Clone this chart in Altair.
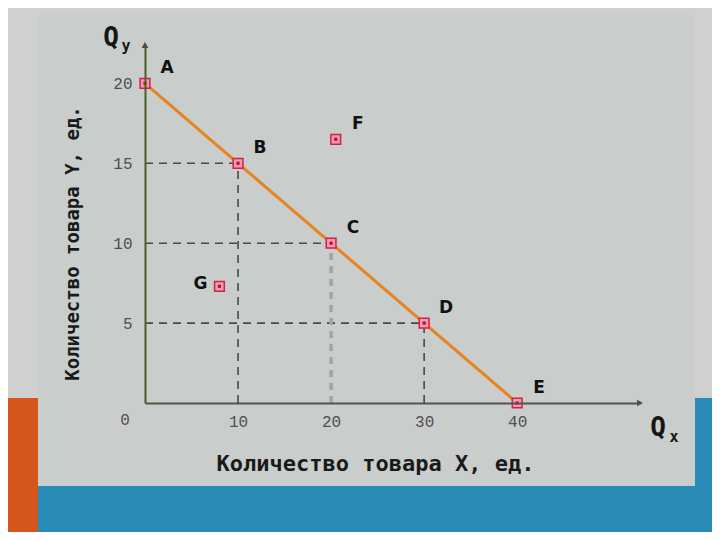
import altair as alt
import pandas as pd

# ---- data ----
line_names = ["A", "B", "C", "D", "E"]
line_x = [0, 10, 20, 30, 40]
line_y = [20, 15, 10, 5, 0]

extra_names = ["F", "G"]
extra_x = [20.5, 8]
extra_y = [16.5, 7.3]

guide_names = ["B", "C", "D"]
guide_x = [10, 20, 30]
guide_y = [15, 10, 5]

x_ticks = [10, 20, 30, 40]
y_ticks = [5, 10, 15, 20]
x_title = "Количество товара X, ед."
y_title = "Количество товара Y, ед."

X_MAX = 53.2
Y_MAX = 22.4

line_df = pd.DataFrame({"name": line_names, "x": line_x, "y": line_y})
extra_df = pd.DataFrame({"name": extra_names, "x": extra_x, "y": extra_y})
all_df = pd.concat([line_df, extra_df], ignore_index=True)
guide_df = pd.DataFrame({"name": guide_names, "x": guide_x, "y": guide_y, "zero": [0, 0, 0]})
one = pd.DataFrame({"k": [0]})

xs = alt.Scale(domain=[0, X_MAX], nice=False, zero=False)
ys = alt.Scale(domain=[0, Y_MAX], nice=False, zero=False)

x_axis = alt.Axis(
    values=x_ticks, title=x_title, grid=False, ticks=False, zindex=1,
    domainColor="#55564a", domainWidth=2,
    labelFont="Liberation Mono", labelFontSize=16, labelColor="#505050",
    labelPadding=10, labelFlush=False,
    titleFont="DejaVu Sans Mono", titleFontWeight="bold", titleFontSize=22,
    titleColor="#1a1a1a", titleX=230, titleY=60, titleAlign="center",
    titleBaseline="middle", titleAnchor="start",
)
y_axis = alt.Axis(
    values=y_ticks, title=y_title, grid=False, ticks=False, zindex=1,
    domainColor="#4d5e26", domainWidth=2,
    labelFont="Liberation Mono", labelFontSize=16, labelColor="#505050",
    labelPadding=13, labelFlush=False,
    titleFont="DejaVu Sans Mono", titleFontWeight="bold", titleFontSize=19,
    titleColor="#1a1a1a", titleAngle=270, titleX=-73, titleY=198,
    titleAlign="center", titleBaseline="middle", titleAnchor="start",
)

def X(field):
    return alt.X(field, scale=xs, axis=x_axis)

def Y(field):
    return alt.Y(field, scale=ys, axis=y_axis)

def rect(x, x2, y, y2, color):
    return alt.Chart(one).mark_rect(color=color, opacity=1).encode(
        x=alt.value(x), x2=alt.value(x2), y=alt.value(y), y2=alt.value(y2)
    )

# decorative slide background (plot-area pixel coordinates)
bg_panel = rect(-107, 550, -30, 441, "#c9cdcb")
bg_blue = rect(-137, 567, 441, 487, "#2a8cb6")
bg_blue_r = rect(550, 567, 353, 441, "#2a8cb6")
bg_orange = rect(-137, -107, 353, 487, "#d4561c")

# dashed guides
h_guides = alt.Chart(guide_df).mark_rule(color="#4a4a42", strokeWidth=1.6, strokeDash=[8, 6]).encode(
    x=X("zero:Q"), x2="x:Q", y=Y("y:Q"),
)
v_guides = alt.Chart(guide_df[guide_df["name"] != "C"]).mark_rule(
    color="#4a4a42", strokeWidth=1.6, strokeDash=[8, 6]).encode(
    x=X("x:Q"), y=Y("zero:Q"), y2="y:Q",
)
v_guide_c = alt.Chart(guide_df[guide_df["name"] == "C"]).mark_rule(
    color="#a3a5a3", strokeWidth=3.5, strokeDash=[7, 6]).encode(
    x=X("x:Q"), y=Y("zero:Q"), y2="y:Q",
)

budget = alt.Chart(line_df).mark_line(color="#e8831e", strokeWidth=3).encode(
    x=X("x:Q"), y=Y("y:Q"), order="x:Q"
)

markers = alt.Chart(all_df).mark_point(
    shape="square", size=95, filled=True, fill="#f29aae", stroke="#d3204a",
    strokeWidth=1.5, opacity=1).encode(x=X("x:Q"), y=Y("y:Q"))
dots = alt.Chart(all_df).mark_point(shape="square", size=10, filled=True, color="#b0103a", opacity=1).encode(
    x=X("x:Q"), y=Y("y:Q"))

lab_df = all_df[all_df["name"] != "G"]
letters = alt.Chart(lab_df).mark_text(
    font="DejaVu Sans", fontWeight="bold", fontSize=17, color="#111111", dx=22, dy=-15).encode(
    x=X("x:Q"), y=Y("y:Q"), text="name:N"
)
letter_g = alt.Chart(all_df[all_df["name"] == "G"]).mark_text(
    font="DejaVu Sans", fontWeight="bold", fontSize=17, color="#111111", dx=-19, dy=-2).encode(
    x=X("x:Q"), y=Y("y:Q"), text="name:N"
)

zero_df = pd.DataFrame({"x": [0], "y": [0], "t": ["0"]})
zero_lab = alt.Chart(zero_df).mark_text(
    font="Liberation Mono", fontSize=16, color="#505050", dx=-20, dy=17).encode(
    x=X("x:Q"), y=Y("y:Q"), text="t:N"
)

arrow_df = pd.DataFrame({"x": [X_MAX, 0], "y": [0, Y_MAX], "shape": ["triangle-right", "triangle-up"]})
arrows = alt.Chart(arrow_df).mark_point(filled=True, size=45, color="#4a4a42", opacity=1).encode(
    x=X("x:Q"), y=Y("y:Q"),
    shape=alt.Shape("shape:N", scale=None),
)

def qtext(txt, x, y, size):
    return alt.Chart(one).mark_text(
        text=txt, font="DejaVu Sans Mono", fontSize=size, color="#151515", fontWeight="bold",
        align="center", baseline="middle").encode(x=alt.value(x), y=alt.value(y))

q_y = qtext("Q", -34, -7, 26)
q_y_sub = qtext("y", -19, 1, 15)
q_x = qtext("Q", 513, 383, 26)
q_x_sub = qtext("x", 529, 392, 15)

chart = alt.layer(
    bg_panel, bg_blue, bg_blue_r, bg_orange,
    h_guides, v_guides, v_guide_c, budget, markers, dots,
    letters, letter_g, zero_lab, arrows, q_y, q_y_sub, q_x, q_x_sub,
).properties(
    width=495, height=358,
    autosize=alt.AutoSizeParams(type="none"),
    padding={"left": 137, "top": 37, "right": 72, "bottom": 129},
    background="#d0d0d0",
).configure_view(stroke=None, fill=None)

chart.save("out.html", embed_options={"renderer": "svg", "actions": False})
